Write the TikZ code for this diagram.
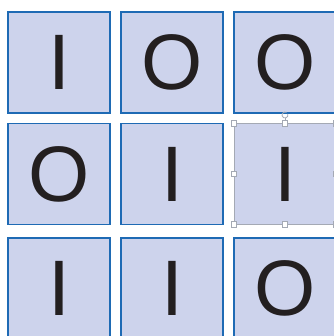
\documentclass[tikz,border=0pt]{standalone}
\usepackage{fontspec}
\setmainfont{Liberation Sans}
\usetikzlibrary{calc}
\definecolor{cellfill}{HTML}{CDD3EC}
\definecolor{cellline}{HTML}{1E6AB4}
\definecolor{selline}{HTML}{A4A9B4}
\definecolor{glyph}{HTML}{231F20}
\begin{document}
\begin{tikzpicture}[x=1bp,y=1bp,
  cell/.style={draw=cellline,line width=1.6bp,fill=cellfill,minimum width=102bp,minimum height=101bp,inner sep=0pt,outer sep=0pt,anchor=north west,font=\fontsize{79}{79}\selectfont,text=glyph},
  selcell/.style={cell,draw=selline,line width=0.8bp},
  handle/.style={draw=selline,fill=white,line width=0.6bp,minimum size=5.5bp,inner sep=0pt,outer sep=0pt}]
\useasboundingbox (0,0) rectangle (334,336);
% rows: top y = 336-12, 336-123.5, 336-238
\node[cell] (a1) at (8,324) {I};
\node[cell] (a2) at (121,324) {O};
\node[cell] (a3) at (234,324) {O};
\node[cell] (b1) at (8,212.5) {O};
\node[cell] (b2) at (121,212.5) {I};
\node[selcell] (b3) at (234,212.5) {I};
\node[cell] (c1) at (8,98) {I};
\node[cell] (c2) at (121,98) {I};
\node[cell] (c3) at (234,98) {O};
% selection handles
\foreach \p in {north west,north,north east,west,east,south west,south,south east}
  \node[handle] at (b3.\p) {};
\coordinate (rot) at ($(b3.north)+(0,8.5)$);
\draw[selline,line width=0.7bp] (b3.north) ++(0,3) -- ++(0,2.5);
\draw[selline,line width=0.8bp] ([shift={(60:3)}]rot) arc (60:380:3);
\end{tikzpicture}
\end{document}
